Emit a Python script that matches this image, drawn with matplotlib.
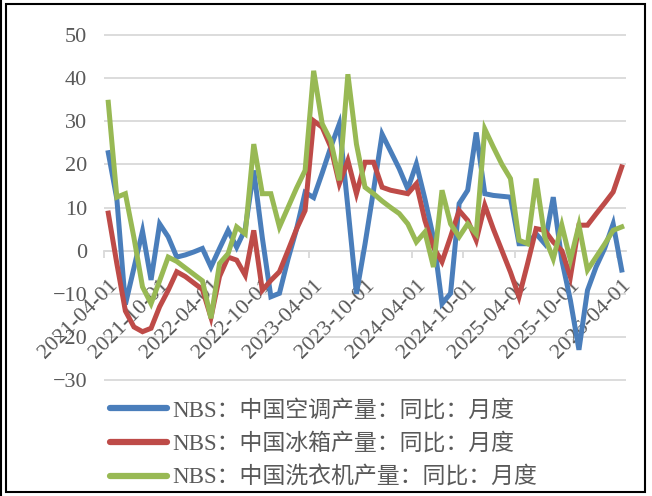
import matplotlib
matplotlib.use("Agg")
import matplotlib.pyplot as plt
from matplotlib.patches import Rectangle
from matplotlib.lines import Line2D
import pandas as pd

plt.rcParams['font.family'] = ['Liberation Serif', 'Noto Sans CJK SC']

# monthly, 2021-04 .. 2026-04
months = pd.period_range('2021-04', '2026-04', freq='M')

aircon = [22.7, 12, -12.5, -4, 4.5, -6.8, 6.2, 3.2, -1.5, -1, -0.3, 0.5,
          -3.8, 0.5, 4.7, 0.8, 5, 18.6, 3, -10.7, -9.9, -2, 5, 13.5,
          12.3, 18, 24, 29.4, 10, -10, 1.5, 14, 27, 23, 19, 14.3,
          20.1, 12, 3, -12.3, -9.9, 10.9, 14, 27.4, 13.2, 12.8, 12.6, 12.4,
          1.6, 1.6, 3.9, 1.6, 12.4, -2.2, -11.5, -23, -9.2, -3.8, 0.5, 6.2,
          -4.5]
fridge = [8.7, -3, -14, -17.7, -18.8, -18, -13, -9.2, -4.9, -6, -7.5, -9,
          -15.5, -6, -1.5, -2.2, -5.7, 4.7, -9.2, -6.9, -4.9, 0, 5, 9.3,
          30.1, 28.6, 24, 15.5, 20.9, 13.2, 20.5, 20.5, 14.7, 14, 13.6, 13.2,
          15.5, 7, 0.8, -2.6, 3.2, 9.3, 7, 2.4, 10.5, 5, 0, -5,
          -10.7, -3, 5.1, 4.7, 2, 0, -6.1, 5.9, 5.9, 8.5, 11, 13.6,
          19.4]
washer = [34.4, 12.4, 13.2, 3, -8.4, -12.3, -7, -1.5, -2.5, -4, -5.5, -7,
          -15.7, -3, -0.7, 5.5, 3.9, 24.7, 13.2, 13.2, 5.5, 10, 14.5, 18.6,
          41.7, 29.4, 25.5, 16.3, 40.9, 24.7, 14.7, 13.2, 11.5, 10, 8.6, 6.2,
          2, 4.3, -3.8, 14, 6.2, 3.2, 6.2, 3.9, 28.2, 24, 20, 16.7,
          2.4, 1.6, 16.7, 3.2, -1.9, 5.9, -2.2, 5.9, -4.5, -1.5, 1.5, 4.7,
          5.5]

names = ['NBS：中国空调产量：同比：月度',
         'NBS：中国冰箱产量：同比：月度',
         'NBS：中国洗衣机产量：同比：月度']
colors = ['#4a7ebb', '#be4b48', '#98b954']

W, H = 652, 496
fig = plt.figure(figsize=(W / 100, H / 100), dpi=100)
y0, y1 = -30.5, 50.5
ppu = (380 - 35) / 80.0
top = 35 - 0.5 * ppu
bot = 380 + 0.5 * ppu
ax = fig.add_axes([104 / W, 1 - bot / H, (626 - 104) / W, (bot - top) / H])

x = [i + 0.5 for i in range(len(months))]
for vals, name, c in zip([aircon, fridge, washer], names, colors):
    ax.plot(x, vals, color=c, lw=3.6, label=name, solid_joinstyle='miter', zorder=3)

ax.set_xlim(0, len(months))
ax.set_ylim(y0, y1)
ax.set_yticks(range(-30, 51, 10))
ax.yaxis.grid(True, color='#d9d9d9', lw=1.3)
ax.set_axisbelow(True)
for s in ['top', 'right', 'left']:
    ax.spines[s].set_visible(False)
ax.spines['bottom'].set_position(('data', 0))
ax.spines['bottom'].set_color('#d9d9d9')
ax.spines['bottom'].set_linewidth(1.3)

ticks = list(range(0, len(months), 6))
ax.set_xticks(ticks)
ax.set_xticklabels([])
# rotated date labels, under the lines, a bit right of and below each tick
for t in ticks:
    ax.annotate(months[t].strftime('%Y-%m-01'), xy=(t, 0), xycoords='data',
                xytext=(3, -18), textcoords='offset points',
                rotation=45, ha='right', va='top', rotation_mode='anchor',
                fontsize=16, color='#595959', annotation_clip=False, zorder=1)
ax.tick_params(axis='x', direction='out', length=5, width=1.3, color='#d9d9d9')
ax.tick_params(axis='y', length=0, pad=12, labelsize=16, labelcolor='#595959')

leg = fig.legend(loc='upper left', bbox_to_anchor=(101 / W, 1 - 390 / H),
                 frameon=False, fontsize=16.5, handlelength=2.5,
                 handletextpad=0.22, labelspacing=0.52, borderaxespad=0)
for t in leg.get_texts():
    t.set_color('#595959')
for l in leg.get_lines():
    l.set_linewidth(4.5)
    l.set_solid_capstyle('round')

# frame
fig.patches.append(Rectangle((6 / W, 4 / H), (645 - 6) / W, (492 - 4) / H,
                             transform=fig.transFigure, fill=False,
                             ec='black', lw=1.5))
fig.lines.append(Line2D([1 / W, 1 / W], [0, 1], transform=fig.transFigure,
                        color='black', lw=1.5))

fig.savefig('out.png', dpi=100)
